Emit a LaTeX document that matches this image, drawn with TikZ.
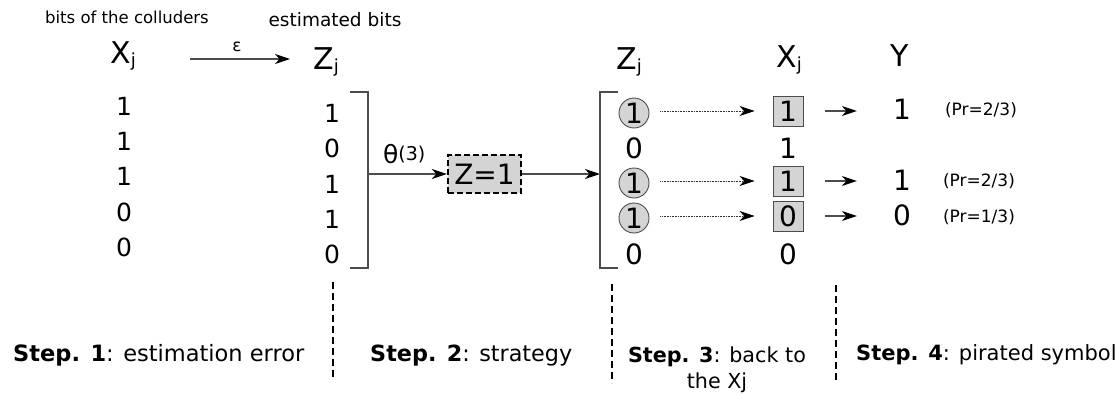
\documentclass[tikz,border=0pt]{standalone}
\usepackage{fontspec}
\setmainfont{DejaVu Sans}
\usetikzlibrary{arrows.meta}
\newcommand\myfs[1]{\fontsize{#1}{#1}\selectfont}
\newcommand\mysub[1]{\raisebox{-3.5pt}{\myfs{18}#1}}
\tikzset{
  big/.style={font=\myfs{30}, inner sep=0pt, anchor=base west},
  digit/.style={font=\myfs{25}, inner sep=0pt},
  digitb/.style={font=\myfs{28}, inner sep=0pt},
  line/.style={draw=black!70, line width=1.3pt},
  tip/.style={-{Stealth[length=15pt,width=10pt,inset=4.5pt,black]}},
  arr/.style={line, tip},
  dotarr/.style={draw=black!80, line width=0.9pt, dash pattern=on 0.8pt off 0.8pt, tip},
  sep/.style={draw=black, line width=2.8pt, dash pattern=on 7pt off 4pt},
  ball/.style={circle, draw=black!70, line width=0.9pt, fill=black!17, minimum size=30pt, inner sep=0pt, font=\myfs{28}},
  sq/.style={draw=black!70, line width=0.9pt, fill=black!17, minimum width=30pt, minimum height=30pt, inner sep=0pt, font=\myfs{28}},
  pr/.style={font=\myfs{17}, inner sep=0pt},
  steptext/.style={inner sep=0pt, anchor=base west}
}
\begin{document}
\begin{tikzpicture}[x=1pt,y=-1pt]
\useasboundingbox (0,0) rectangle (1117,394);
% headers
\node[font=\myfs{16.5}, inner sep=0pt, anchor=base] (hcol) at (127,23) {bits of the colluders};
\node[font=\myfs{18.5}, inner sep=0pt, anchor=base] (hest) at (335,26) {estimated bits};
\node[big] (xh) at (110,63) {X\mysub{j}};
\node[big] (zh) at (313,69) {Z\mysub{j}};
\coordinate (e1) at (190,59);
\coordinate (e2) at (290,59);
\draw[arr] (e1) -- (e2);
\node[font=\myfs{17}, inner sep=0pt] (eps) at (237,47) {ε};
% column X
\node[digit] (x1) at (124,106) {1};
\node[digit] (x2) at (124,141) {1};
\node[digit] (x3) at (124,176) {1};
\node[digit] (x4) at (124,212) {0};
\node[digit] (x5) at (124,247) {0};
% column Z
\node[digit] (z1) at (332,113) {1};
\node[digit] (z2) at (332,148) {0};
\node[digit] (z3) at (332,184) {1};
\node[digit] (z4) at (332,219) {1};
\node[digit] (z5) at (332,254) {0};
\draw[line] (350,92) -- (368,92) -- (368,268) -- (350,268);
\coordinate (br1) at (368,174);
% strategy
\node[draw=black, line width=2.4pt, dash pattern=on 6pt off 3pt, fill=black!17,
      minimum width=73pt, minimum height=38pt, inner sep=0pt, font=\myfs{28}] (zbox) at (484.5,174) {Z=1};
\draw[arr] (br1) -- (zbox.west);
\node[inner sep=0pt, anchor=base west] (theta) at (383,163) {\myfs{25}θ\raisebox{2.5pt}{\myfs{19}(3)}};
\coordinate (br2) at (600,174);
\draw[arr] (zbox.east) -- (br2);
\draw[line] (618,92) -- (600,92) -- (600,268) -- (618,268);
% step 3 columns
\node[big] (zh2) at (616,69) {Z\mysub{j}};
\node[big] (xh2) at (776,67) {X\mysub{j}};
\node[font=\myfs{30}, inner sep=0pt] (yh) at (900,56) {Y};
\node[ball] (c1) at (634,113) {1};
\node[digitb] (w2) at (634,148) {0};
\node[ball] (c3) at (634,183) {1};
\node[ball] (c4) at (634,218) {1};
\node[digitb] (w5) at (634,254) {0};
\node[sq] (b1) at (788,111) {1};
\node[digitb] (v2) at (788,148) {1};
\node[sq] (b3) at (788,181) {1};
\node[sq] (b4) at (788,216) {0};
\node[digitb] (v5) at (788,254) {0};
\draw[dotarr, shorten <=11pt, shorten >=18pt] (c1.east |- b1) -- (b1.west);
\draw[dotarr, shorten <=11pt, shorten >=18pt] (c3.east |- b3) -- (b3.west);
\draw[dotarr, shorten <=11pt, shorten >=18pt] (c4.east |- b4) -- (b4.west);
% Y
\node[digitb] (y1) at (902,109) {1};
\node[digitb] (y3) at (902,180) {1};
\node[digitb] (y4) at (902,215) {0};
\draw[arr, shorten <=22pt, shorten >=36pt] (b1.east) -- (b1 -| y1.west);
\draw[arr, shorten <=22pt, shorten >=36pt] (b3.east) -- (b3 -| y3.west);
\draw[arr, shorten <=22pt, shorten >=36pt] (b4.east) -- (b4 -| y4.west);
\node[pr] (p1) at (981,110) {(Pr=2/3)};
\node[pr] (p3) at (979,181) {(Pr=2/3)};
\node[pr] (p4) at (979,217) {(Pr=1/3)};
% separators
\draw[sep] (333,282) -- (333,378);
\draw[sep] (612,284) -- (612,383);
\draw[sep] (836,285) -- (836,383);
% steps
\node[steptext, font=\myfs{22.5}] (s1) at (13,361) {\textbf{Step. 1}: estimation error};
\node[steptext, font=\myfs{22.3}] (s2) at (370,361) {\textbf{Step. 2}: strategy};
\node[font=\fontsize{20.7}{26}\selectfont, inner sep=0pt, anchor=base, align=center] (s3) at (717,388) {\textbf{Step. 3}: back to\\the Xj};
\node[steptext, font=\myfs{21}] (s4) at (856,360) {\textbf{Step. 4}: pirated symbol};
\end{tikzpicture}
\end{document}
